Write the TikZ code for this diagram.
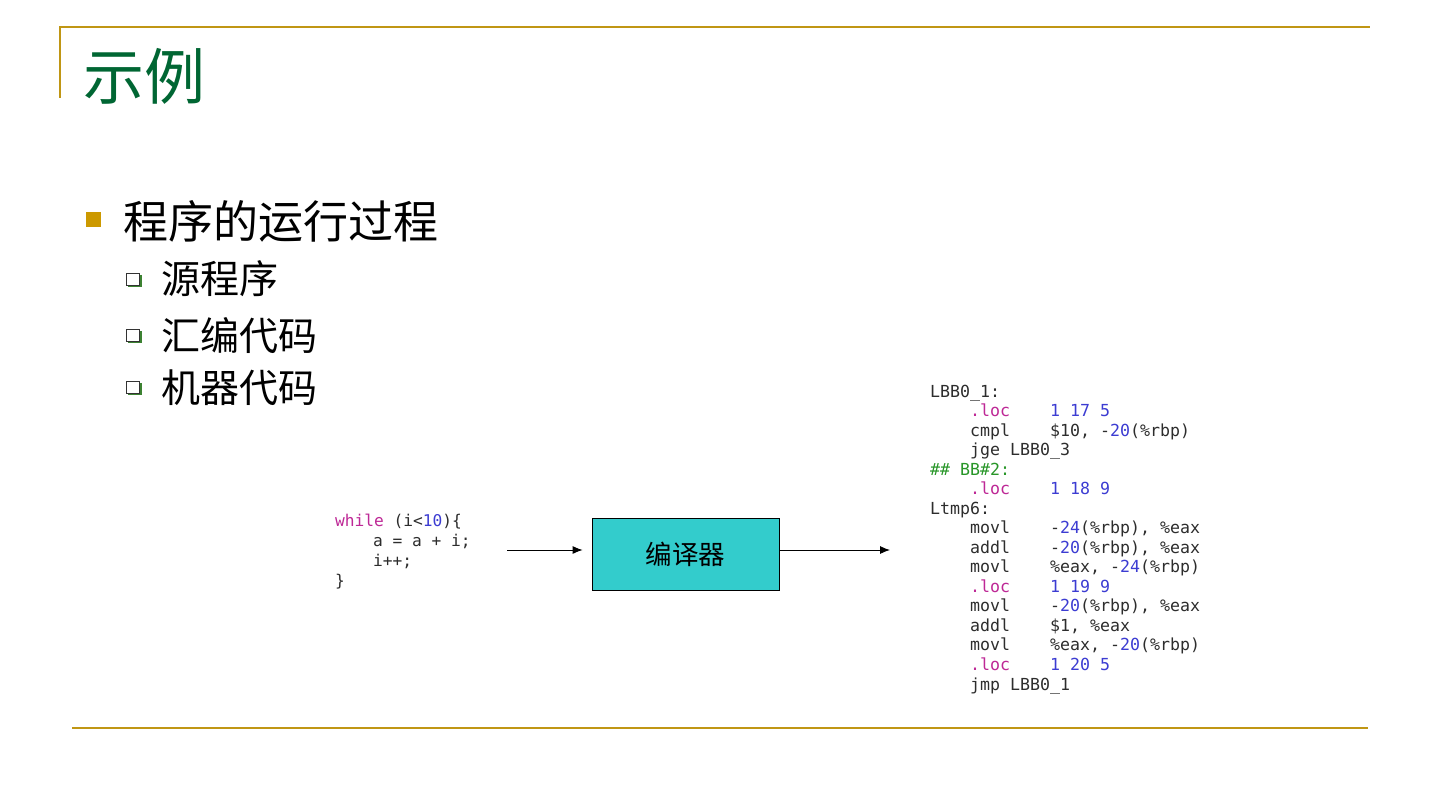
\documentclass[tikz,border=0pt]{standalone}
\usepackage{fontspec}
\setmonofont{DejaVu Sans Mono}
\newfontfamily\cjk{Noto Sans CJK SC}
\usetikzlibrary{arrows.meta}
\definecolor{rulegold}{RGB}{192,150,20}
\definecolor{bulletgold}{RGB}{204,153,0}
\definecolor{titlegreen}{RGB}{0,102,51}
\definecolor{boxcyan}{RGB}{51,204,204}
\definecolor{locc}{RGB}{190,40,150}
\definecolor{numc}{RGB}{60,60,210}
\definecolor{cmtc}{RGB}{40,150,40}
\definecolor{asmgray}{RGB}{45,45,45}
\definecolor{subgreen}{RGB}{60,130,50}
\newcommand\asmfont{\ttfamily\fontsize{16.6}{20}\selectfont}
\newcommand\srcfont{\ttfamily\fontsize{16.2}{20}\selectfont}
\begin{document}
\begin{tikzpicture}[x=1pt,y=-1pt,
  goldrule/.style={draw=rulegold,line width=1.6pt},
  asm/.style={font=\asmfont,anchor=base west,inner sep=0pt,text=asmgray},
  src/.style={font=\srcfont,anchor=base west,inner sep=0pt,text=asmgray},
  subtxt/.style={font=\cjk\fontsize{39}{44}\selectfont,anchor=base west,inner sep=0pt},
  subbox/.style={draw=black!80,fill=white,line width=0.8pt},
  flow/.style={draw=black,line width=0.9pt,-{Latex[length=10pt,width=8pt]}}]
\useasboundingbox (0,0) rectangle (1440,810);
\fill[white] (0,0) rectangle (1440,810);
% frame rules
\draw[goldrule] (60,98) -- (60,27) -- (1370,27);
\draw[goldrule] (72,728) -- (1368,728);
% title
\node[font=\cjk\fontsize{61}{66}\selectfont,text=titlegreen,anchor=base west,inner sep=0pt] (title) at (83,100) {示例};
% main bullet
\fill[bulletgold] (86,212) rectangle (101,227);
\node[font=\cjk\fontsize{45}{50}\selectfont,anchor=base west,inner sep=0pt] (main) at (123,239) {程序的运行过程};
% sub bullets
\foreach \yy in {279,335,387}{
  \fill[subgreen] (128,\yy-4) rectangle (142,\yy+8);
  \draw[subbox] (126,\yy-6) rectangle (139,\yy+6);
}
\node[subtxt] (s1) at (161,294) {源程序};
\node[subtxt] (s2) at (161,350) {汇编代码};
\node[subtxt] (s3) at (161,402) {机器代码};
% source code
\node[src] (c1) at (335,526) {\textcolor{locc}{while} (i<\textcolor{numc}{10})\{};
\node[src] (c2) at (335,546) {\hspace*{38pt}a = a + i;};
\node[src] (c3) at (335,566) {\hspace*{38pt}i++;};
\node[src] (c4) at (335,586) {\}};
% compiler box
\node[draw=black,line width=0.8pt,fill=boxcyan,minimum width=187pt,minimum height=72pt,inner sep=0pt,font=\cjk\fontsize{26.5}{30}\selectfont] (box) at (685.5,554) {编译器};
\coordinate (in) at (507,550);
\coordinate (out) at (890,550);
\draw[flow] (in) -- (box.west |- in) [shorten >=9pt];
\draw[flow] (box.east |- out) -- (out);
% assembly
\node[asm] (a1) at (930,397) {LBB0\_1:};
\node[asm] (a2) at (970,416) {\textcolor{locc}{.loc}\hspace*{40pt}\textcolor{numc}{1 17 5}};
\node[asm] (a3) at (970,436) {cmpl\hspace*{40pt}\$10, -\textcolor{numc}{20}(\%rbp)};
\node[asm] (a4) at (970,455) {jge LBB0\_3};
\node[asm,text=cmtc] (a5) at (930,475) {\#\# BB\#2:};
\node[asm] (a6) at (970,494) {\textcolor{locc}{.loc}\hspace*{40pt}\textcolor{numc}{1 18 9}};
\node[asm] (a7) at (930,514) {Ltmp6:};
\node[asm] (a8) at (970,533) {movl\hspace*{40pt}-\textcolor{numc}{24}(\%rbp), \%eax};
\node[asm] (a9) at (970,553) {addl\hspace*{40pt}-\textcolor{numc}{20}(\%rbp), \%eax};
\node[asm] (a10) at (970,572) {movl\hspace*{40pt}\%eax, -\textcolor{numc}{24}(\%rbp)};
\node[asm] (a11) at (970,592) {\textcolor{locc}{.loc}\hspace*{40pt}\textcolor{numc}{1 19 9}};
\node[asm] (a12) at (970,611) {movl\hspace*{40pt}-\textcolor{numc}{20}(\%rbp), \%eax};
\node[asm] (a13) at (970,631) {addl\hspace*{40pt}\$1, \%eax};
\node[asm] (a14) at (970,650) {movl\hspace*{40pt}\%eax, -\textcolor{numc}{20}(\%rbp)};
\node[asm] (a15) at (970,670) {\textcolor{locc}{.loc}\hspace*{40pt}\textcolor{numc}{1 20 5}};
\node[asm] (a16) at (970,690) {jmp LBB0\_1};
\end{tikzpicture}
\end{document}
